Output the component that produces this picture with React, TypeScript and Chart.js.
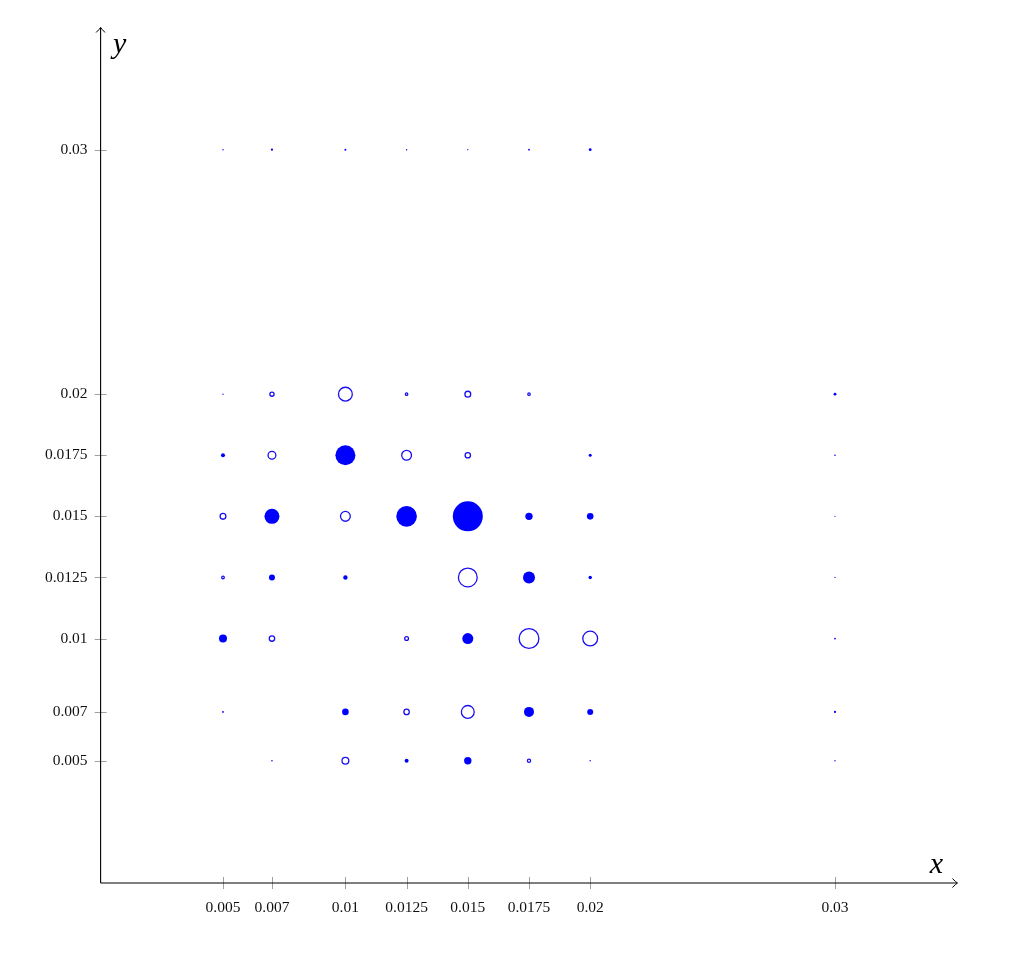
import React, { useEffect, useRef } from "react";
import { Chart, registerables } from "chart.js";

Chart.register(...registerables);

const xTickValues = [0.005, 0.007, 0.01, 0.0125, 0.015, 0.0175, 0.02, 0.03];
const xTickLabels = ["0.005", "0.007", "0.01", "0.0125", "0.015", "0.0175", "0.02", "0.03"];
const yTickValues = [0.005, 0.007, 0.01, 0.0125, 0.015, 0.0175, 0.02, 0.03];
const yTickLabels = ["0.005", "0.007", "0.01", "0.0125", "0.015", "0.0175", "0.02", "0.03"];

// filled markers (x, y, radius in px)
const filledX = [
  0.005, 0.007, 0.01, 0.0125, 0.015, 0.0175, 0.02,
  0.005, 0.03,
  0.005, 0.01, 0.02, 0.03,
  0.007, 0.0125, 0.015, 0.0175, 0.02, 0.03,
  0.007, 0.01, 0.0175, 0.02, 0.03,
  0.005, 0.015, 0.03,
  0.005, 0.01, 0.0175, 0.02, 0.03,
  0.007, 0.0125, 0.015, 0.02, 0.03,
];
const filledY = [
  0.03, 0.03, 0.03, 0.03, 0.03, 0.03, 0.03,
  0.02, 0.02,
  0.0175, 0.0175, 0.0175, 0.0175,
  0.015, 0.015, 0.015, 0.015, 0.015, 0.015,
  0.0125, 0.0125, 0.0125, 0.0125, 0.0125,
  0.01, 0.01, 0.01,
  0.007, 0.007, 0.007, 0.007, 0.007,
  0.005, 0.005, 0.005, 0.005, 0.005,
];
const filledR = [
  0.7, 1.1, 1.0, 0.7, 0.6, 0.9, 1.4,
  0.7, 1.4,
  2.0, 10.0, 1.5, 0.8,
  7.5, 10.3, 15.0, 3.7, 3.3, 0.6,
  3.0, 2.2, 6.0, 1.7, 0.6,
  4.0, 5.5, 0.9,
  0.9, 3.3, 5.0, 3.0, 1.1,
  0.8, 2.0, 3.7, 0.7, 0.7,
];

// open markers (x, y, radius in px)
const openX = [
  0.007, 0.01, 0.0125, 0.015, 0.0175,
  0.007, 0.0125, 0.015,
  0.005, 0.01,
  0.005, 0.015,
  0.007, 0.0125, 0.0175, 0.02,
  0.0125, 0.015,
  0.01, 0.0175,
];
const openY = [
  0.02, 0.02, 0.02, 0.02, 0.02,
  0.0175, 0.0175, 0.0175,
  0.015, 0.015,
  0.0125, 0.0125,
  0.01, 0.01, 0.01, 0.01,
  0.007, 0.007,
  0.005, 0.005,
];
const openR = [
  2.1, 6.9, 1.2, 2.9, 1.2,
  3.9, 4.9, 2.7,
  2.9, 4.9,
  1.3, 9.4,
  2.7, 1.9, 9.9, 7.4,
  2.7, 6.4,
  3.4, 1.6,
];

const X_MAX = 0.035;
const Y_MAX = 0.035;

const axesPlugin = {
  id: "axesArrows",
  beforeDatasetsDraw(chart: any) {
    const ctx = chart.ctx;
    const xs = chart.scales.x;
    const ys = chart.scales.y;
    const x0 = xs.getPixelForValue(0);
    const y0 = ys.getPixelForValue(0);
    const xEnd = xs.getPixelForValue(X_MAX);
    const yEnd = ys.getPixelForValue(Y_MAX);
    ctx.save();
    ctx.strokeStyle = "#a0a0a0";
    ctx.lineWidth = 1;
    for (const t of xs.ticks) {
      const px = Math.round(xs.getPixelForValue(t.value)) + 0.5;
      ctx.beginPath();
      ctx.moveTo(px, y0 - 6);
      ctx.lineTo(px, y0 + 6);
      ctx.stroke();
    }
    for (const t of ys.ticks) {
      const py = Math.round(ys.getPixelForValue(t.value)) + 0.5;
      ctx.beginPath();
      ctx.moveTo(x0 - 6, py);
      ctx.lineTo(x0 + 6, py);
      ctx.stroke();
    }
    ctx.strokeStyle = "#000";
    ctx.lineWidth = 1.1;
    ctx.beginPath();
    ctx.moveTo(x0, y0);
    ctx.lineTo(xEnd, y0);
    ctx.moveTo(x0, y0);
    ctx.lineTo(x0, yEnd);
    ctx.stroke();
    // arrow heads
    ctx.lineWidth = 1;
    ctx.beginPath();
    ctx.moveTo(xEnd - 5, y0 - 4.5);
    ctx.quadraticCurveTo(xEnd - 1.5, y0 - 1, xEnd, y0);
    ctx.quadraticCurveTo(xEnd - 1.5, y0 + 1, xEnd - 5, y0 + 4.5);
    ctx.moveTo(x0 - 4.5, yEnd + 5);
    ctx.quadraticCurveTo(x0 - 1, yEnd + 1.5, x0, yEnd);
    ctx.quadraticCurveTo(x0 + 1, yEnd + 1.5, x0 + 4.5, yEnd + 5);
    ctx.stroke();
    // axis labels
    ctx.fillStyle = "#000";
    ctx.font = 'italic 30px "Liberation Serif", serif';
    ctx.textAlign = "center";
    ctx.textBaseline = "alphabetic";
    ctx.fillText("x", xEnd - 21, y0 - 10);
    ctx.fillText("y", x0 + 19, yEnd + 25);
    ctx.restore();
  },
};

export default function App() {
  const canvasRef = useRef<HTMLCanvasElement | null>(null);

  useEffect(() => {
    const canvas = canvasRef.current;
    if (!canvas) return;
    const chart = new Chart(canvas, {
      type: "bubble",
      data: {
        datasets: [
          {
            label: "filled",
            data: filledX.map((x, i) => ({ x, y: filledY[i], r: filledR[i] })),
            backgroundColor: "#0000ff",
            borderColor: "#0000ff",
            borderWidth: 0,
          },
          {
            label: "open",
            data: openX.map((x, i) => ({ x, y: openY[i], r: openR[i] })),
            backgroundColor: "rgba(0,0,0,0)",
            borderColor: "#1a0ff0",
            borderWidth: 1.3,
          },
        ],
      },
      options: {
        animation: false,
        responsive: true,
        maintainAspectRatio: false,
        events: [],
        layout: { padding: { left: 0, right: 1024 - 957.4, top: 27.5, bottom: 0 } },
        plugins: { legend: { display: false }, tooltip: { enabled: false } },
        scales: {
          x: {
            type: "linear",
            min: 0,
            max: X_MAX,
            grid: { display: false, drawTicks: false },
            border: { display: false },
            afterBuildTicks: (s: any) => {
              s.ticks = xTickValues.map((v) => ({ value: v }));
            },
            afterFit: (s: any) => {
              s.height = 968 - 883;
            },
            ticks: {
              autoSkip: false,
              maxRotation: 0,
              padding: 16,
              color: "#111",
              font: { family: '"Liberation Serif", serif', size: 15.5 },
              callback: (_v: any, i: number) => xTickLabels[i],
            },
          },
          y: {
            type: "linear",
            min: 0,
            max: Y_MAX,
            grid: { display: false, drawTicks: false },
            border: { display: false },
            afterBuildTicks: (s: any) => {
              s.ticks = yTickValues.map((v) => ({ value: v }));
            },
            afterFit: (s: any) => {
              s.width = 100.6;
            },
            ticks: {
              autoSkip: false,
              padding: 13,
              color: "#111",
              font: { family: '"Liberation Serif", serif', size: 15.5 },
              callback: (_v: any, i: number) => yTickLabels[i],
            },
          },
        },
      },
      plugins: [axesPlugin],
    });
    return () => chart.destroy();
  }, []);

  return (
    <div style={{ position: "absolute", left: 0, top: 0, width: 1024, height: 968, background: "#fff" }}>
      <canvas ref={canvasRef} />
    </div>
  );
}
